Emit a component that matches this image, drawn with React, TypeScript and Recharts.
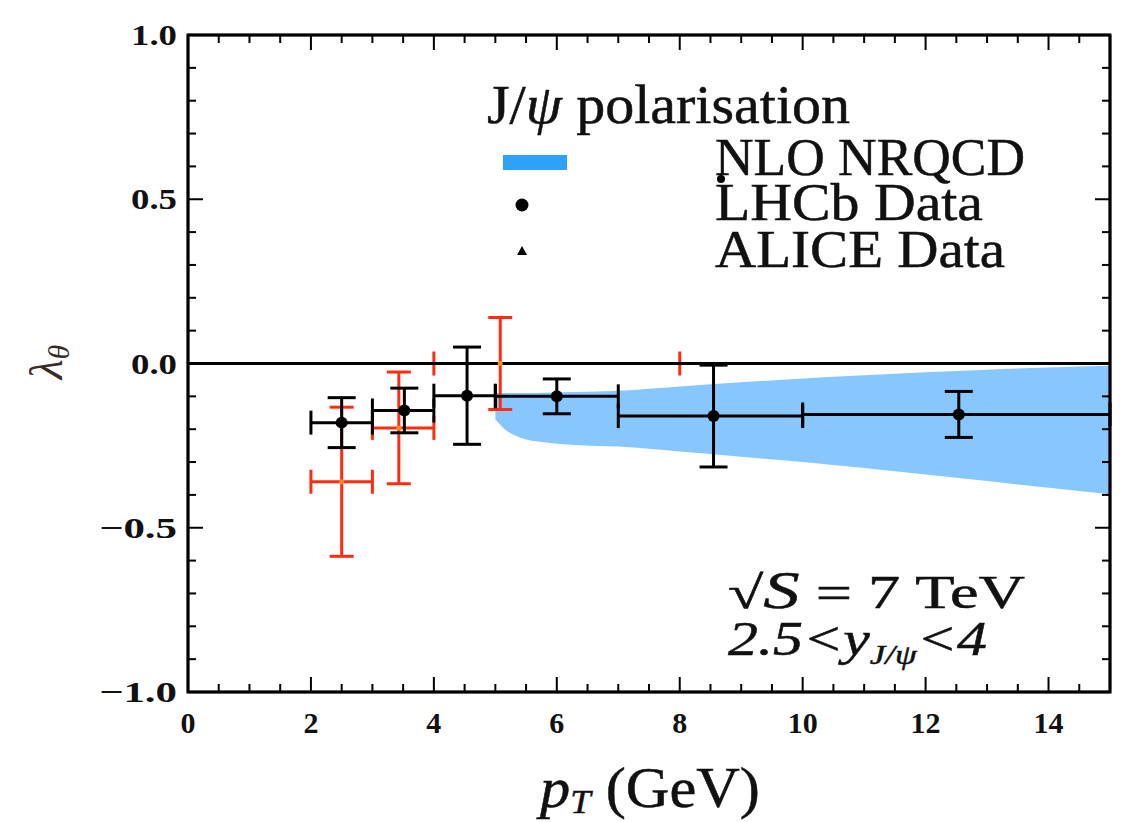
import React from 'react';
import { ComposedChart, Area, Scatter, ErrorBar, XAxis, YAxis, ReferenceArea } from 'recharts';

// NLO NRQCD band (lower / upper edge)
const bandX = [5.0, 5.15, 5.4, 5.8, 6.3, 7, 8, 9, 10, 11, 12, 13, 14, 15];
const bandLow = [-0.17, -0.2, -0.225, -0.24, -0.248, -0.253, -0.268, -0.284, -0.3, -0.318, -0.338, -0.358, -0.378, -0.398];
const bandHigh = [-0.09, -0.09, -0.09, -0.089, -0.087, -0.083, -0.07, -0.057, -0.046, -0.036, -0.027, -0.019, -0.012, -0.007];

// LHCb data
const lhcbX = [2.5, 3.52, 4.54, 6.0, 8.55, 12.54];
const lhcbY = [-0.18, -0.143, -0.098, -0.1, -0.16, -0.155];
const lhcbYErr = [0.076, 0.068, 0.148, 0.053, 0.155, 0.07];
const lhcbBinLow = [2, 3, 4, 5, 7, 10];
const lhcbBinHigh = [3, 4, 5, 7, 10, 15];

// ALICE data
const aliceX = [2.5, 3.43, 5.08];
const aliceY = [-0.36, -0.196, 0.0];
const aliceYErr = [0.227, 0.17, 0.14];
const aliceBinLow = [2, 3, 4];
const aliceBinHigh = [3, 4, 8];

// zero line
const zeroLineX = [0, 15];
const zeroLineY = [0, 0];

// ticks
const xMajorTicks = [0, 2, 4, 6, 8, 10, 12, 14];
const xMinorTicks = [0.5, 1, 1.5, 2.5, 3, 3.5, 4.5, 5, 5.5, 6.5, 7, 7.5, 8.5, 9, 9.5, 10.5, 11, 11.5, 12.5, 13, 13.5, 14.5];
const yMajorTicks = [-1, -0.5, 0, 0.5, 1];
const yMinorTicks = [-0.9, -0.8, -0.7, -0.6, -0.4, -0.3, -0.2, -0.1, 0.1, 0.2, 0.3, 0.4, 0.6, 0.7, 0.8, 0.9];
const yTickLabels = ['\u22121.0', '\u22120.5', '0.0', '0.5', '1.0'];

const bandData = bandX.map((x, i) => ({ x, band: [bandLow[i], bandHigh[i]] }));
const lhcbData = lhcbX.map((x, i) => ({
  x,
  y: lhcbY[i],
  ey: lhcbYErr[i],
  ex: [x - lhcbBinLow[i], lhcbBinHigh[i] - x],
}));
const aliceData = aliceX.map((x, i) => ({
  x,
  y: aliceY[i],
  ey: aliceYErr[i],
  ex: [x - aliceBinLow[i], aliceBinHigh[i] - x],
}));
const zeroData = zeroLineX.map((x, i) => ({ x, y: zeroLineY[i] }));

const xTicks = [...xMajorTicks, ...xMinorTicks].sort((a, b) => a - b);
const yTicks = [...yMajorTicks, ...yMinorTicks].sort((a, b) => a - b);

const SERIF = '"Liberation Serif", "DejaVu Serif", serif';
const RED = '#ff2d0f';
const MAJ = 15;
const MIN = 8;

const BottomTick = (props: any) => {
  const { x, y, payload } = props;
  const major = xMajorTicks.includes(payload.value);
  return (
    <g>
      <line x1={x} x2={x} y1={y} y2={y - (major ? MAJ : MIN)} stroke="#000" strokeWidth={2} />
      {major && (
        <text x={x} y={y + 41} textAnchor="middle" fontFamily={SERIF} fontWeight="bold" fontSize={30} fill="#111">
          {payload.value}
        </text>
      )}
    </g>
  );
};
const TopTick = (props: any) => {
  const { x, y, payload } = props;
  const major = xMajorTicks.includes(payload.value);
  return <line x1={x} x2={x} y1={y} y2={y + (major ? MAJ : MIN)} stroke="#000" strokeWidth={2} />;
};
const LeftTick = (props: any) => {
  const { x, y, payload } = props;
  const idx = yMajorTicks.indexOf(payload.value);
  const major = idx >= 0;
  const label = major ? yTickLabels[idx] : '';
  return (
    <g>
      <line x1={x} x2={x + (major ? MAJ : MIN)} y1={y} y2={y} stroke="#000" strokeWidth={2} />
      {major && (
        <text
          x={x - 11}
          y={y + 10}
          textAnchor="end"
          fontFamily={SERIF}
          fontWeight="bold"
          fontSize={30}
          fill="#111"
          textLength={label.length > 3 ? 78 : 46}
          lengthAdjust="spacingAndGlyphs"
        >
          {label}
        </text>
      )}
    </g>
  );
};
const RightTick = (props: any) => {
  const { x, y, payload } = props;
  const major = yMajorTicks.includes(payload.value);
  return <line x1={x} x2={x - (major ? MAJ : MIN)} y1={y} y2={y} stroke="#000" strokeWidth={2} />;
};

const LhcbDot = (p: any) => <circle cx={p.cx} cy={p.cy} r={6} fill="#000" />;
const AliceDot = (p: any) => <circle cx={p.cx} cy={p.cy} r={2.5} fill="#ff8a1a" />;
const NoDot = () => <g />;

const textInk = { fill: '#111', stroke: '#111', strokeWidth: 0.5 };

export default function App() {
  return (
    <div style={{ position: 'absolute', left: 0, top: 0, width: 1132, height: 822, background: '#fff' }}>
      <ComposedChart
        width={1132}
        height={822}
        data={bandData}
        margin={{ top: 34, right: 21, bottom: 0, left: 0 }}
      >
        <XAxis
          xAxisId={0}
          dataKey="x"
          type="number"
          domain={[0, 15]}
          ticks={xTicks}
          interval={0}
          tick={<BottomTick />}
          tickLine={false}
          tickSize={0}
          tickMargin={0}
          height={130}
          axisLine={{ stroke: '#000', strokeWidth: 2.5 }}
          allowDataOverflow
        />
        <XAxis
          xAxisId="top"
          orientation="top"
          dataKey="x"
          type="number"
          domain={[0, 15]}
          ticks={xTicks}
          interval={0}
          tick={<TopTick />}
          tickLine={false}
          tickSize={0}
          tickMargin={0}
          height={1}
          axisLine={{ stroke: '#000', strokeWidth: 2.5 }}
          allowDataOverflow
        />
        <YAxis
          yAxisId={0}
          type="number"
          domain={[-1, 1]}
          ticks={yTicks}
          interval={0}
          tick={<LeftTick />}
          tickLine={false}
          tickSize={0}
          tickMargin={0}
          width={188}
          axisLine={{ stroke: '#000', strokeWidth: 2.5 }}
          allowDataOverflow
        />
        <YAxis
          yAxisId="right"
          orientation="right"
          type="number"
          domain={[-1, 1]}
          ticks={yTicks}
          interval={0}
          tick={<RightTick />}
          tickLine={false}
          tickSize={0}
          tickMargin={0}
          width={1}
          axisLine={{ stroke: '#000', strokeWidth: 2.5 }}
          allowDataOverflow
        />
        <Area
          dataKey="band"
          type="monotone"
          stroke="none"
          fill="#88c7fd"
          fillOpacity={1}
          isAnimationActive={false}
          dot={false}
          activeDot={false}
        />
        {/* binds the mirrored top/right axes so their ticks are drawn */}
        <Scatter
          data={zeroData}
          dataKey="y"
          xAxisId="top"
          yAxisId="right"
          shape={<NoDot />}
          isAnimationActive={false}
        />
        <Scatter data={aliceData} dataKey="y" shape={<NoDot />} isAnimationActive={false}>
          <ErrorBar dataKey="ex" direction="x" width={12} stroke={RED} strokeWidth={3} isAnimationActive={false} />
        </Scatter>
        <Scatter
          data={zeroData}
          dataKey="y"
          shape={<NoDot />}
          line={{ stroke: '#000', strokeWidth: 3 }}
          isAnimationActive={false}
        />
        <Scatter data={aliceData} dataKey="y" shape={<AliceDot />} isAnimationActive={false}>
          <ErrorBar dataKey="ey" direction="y" width={12} stroke={RED} strokeWidth={3} isAnimationActive={false} />
        </Scatter>
        <Scatter data={lhcbData} dataKey="y" shape={<LhcbDot />} isAnimationActive={false}>
          <ErrorBar dataKey="ex" direction="x" width={12} stroke="#000" strokeWidth={3} isAnimationActive={false} />
          <ErrorBar dataKey="ey" direction="y" width={14} stroke="#000" strokeWidth={3} isAnimationActive={false} />
        </Scatter>
        <ReferenceArea x1={0} x2={15} y1={-1} y2={1} fill="none" stroke="#000" strokeWidth={3} />
      </ComposedChart>
      <svg
        width={1132}
        height={822}
        style={{ position: 'absolute', left: 0, top: 0, pointerEvents: 'none' }}
      >
        {/* legend */}
        <text x={487} y={123} fontFamily={SERIF} fontSize={54} {...textInk} textLength={363} lengthAdjust="spacingAndGlyphs">
          J/<tspan fontStyle="italic">ψ</tspan> polarisation
        </text>
        <rect x={503} y={155} width={64} height={15} fill="#2ea2fb" />
        <circle cx={522} cy={205} r={6.5} fill="#000" />
        <polygon points="522,246 517,255 527,255" fill="#000" />
        <text x={715} y={175} fontFamily={SERIF} fontSize={52} {...textInk} textLength={310} lengthAdjust="spacingAndGlyphs">
          NLO NRQCD
        </text>
        <circle cx={721} cy={179} r={4} fill="#000" />
        <text x={715} y={220} fontFamily={SERIF} fontSize={52} {...textInk} textLength={268} lengthAdjust="spacingAndGlyphs">
          LHCb Data
        </text>
        <text x={715} y={267} fontFamily={SERIF} fontSize={52} {...textInk} textLength={290} lengthAdjust="spacingAndGlyphs">
          ALICE Data
        </text>
        {/* annotation */}
        <text x={728} y={608} fontFamily={SERIF} fontSize={46} {...textInk} textLength={297} lengthAdjust="spacingAndGlyphs">
          √<tspan fontStyle="italic" fontSize={52}>S</tspan> = 7 TeV
        </text>
        <text x={728} y={655} fontFamily={SERIF} fontSize={48} {...textInk} fontStyle="italic" textLength={259} lengthAdjust="spacingAndGlyphs">
          2.5&lt;y<tspan fontSize={28} dy={9}>J/ψ</tspan><tspan dy={-9}>&lt;4</tspan>
        </text>
        {/* axis labels */}
        <text x={540} y={807} fontFamily={SERIF} fontSize={56} {...textInk} textLength={220} lengthAdjust="spacingAndGlyphs">
          <tspan fontStyle="italic">p</tspan>
          <tspan fontStyle="italic" fontSize={34} dy={6}>T</tspan>
          <tspan dy={-6}> (GeV)</tspan>
        </text>
        <text transform="translate(62,362) rotate(-90)" textAnchor="middle" fontFamily={SERIF} fontSize={46} fill="#3a2a28">
          <tspan fontStyle="italic">λ</tspan>
          <tspan fontStyle="italic" fontSize={30} dy={7}>θ</tspan>
        </text>
      </svg>
    </div>
  );
}
